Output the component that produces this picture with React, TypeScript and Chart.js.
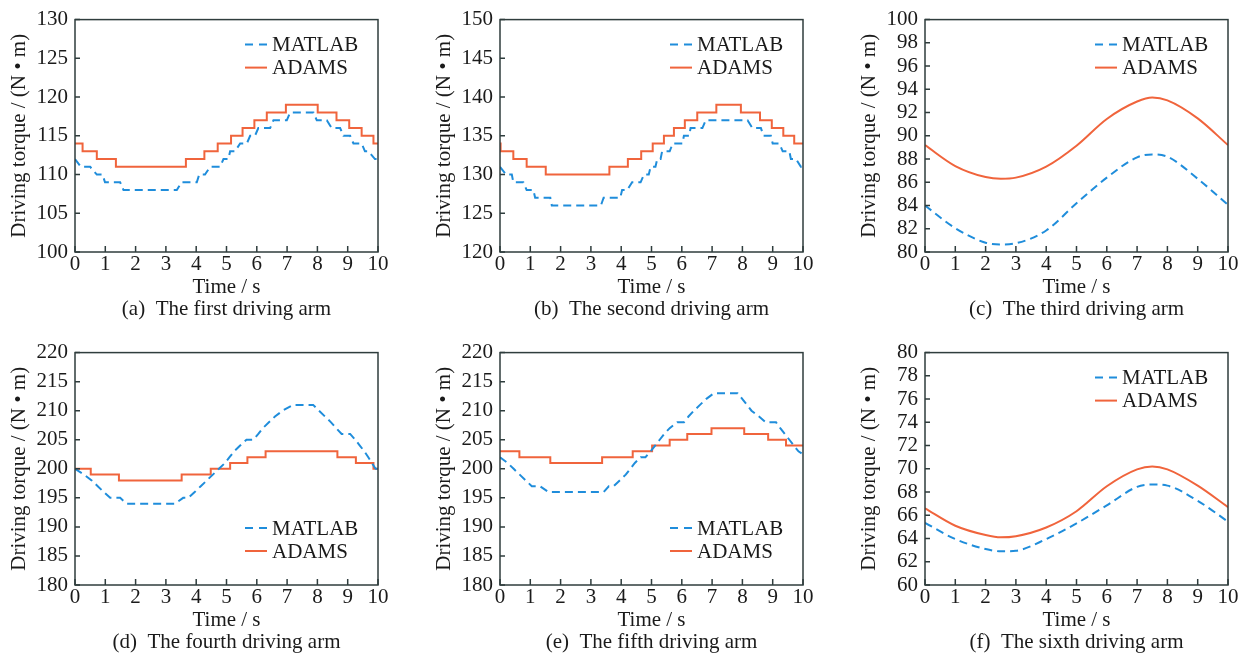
import React, { useEffect, useRef } from "react";
import { Chart, registerables } from "chart.js";

Chart.register(...registerables);

const FONT = '"Liberation Serif", "Times New Roman", serif';
const BLUE = "#1f8ddb";
const ORANGE = "#f0643c";
const AXIS = "#2f3d3d";
const TEXT = "#1a1a1a";
const FS = 21;

const SERIES_LABELS = ["MATLAB", "ADAMS"];
const X_TITLE = "Time / s";
const Y_TITLE = "Driving torque / (N \u2022 m)";
const CAPTIONS = [
  "(a)  The first driving arm",
  "(b)  The second driving arm",
  "(c)  The third driving arm",
  "(d)  The fourth driving arm",
  "(e)  The fifth driving arm",
  "(f)  The sixth driving arm",
];

// (a) first arm
const aMatlabT = [0, 0.19, 0.5, 0.72, 0.91, 0.99, 1.49, 1.6, 3.36, 3.52, 4.02, 4.1, 4.29, 4.46, 4.79, 4.9, 5.06, 5.12, 5.28, 5.45, 5.67, 5.78, 5.94, 6.05, 6.44, 6.55, 6.99, 7.1, 7.87, 7.98, 8.31, 8.47, 8.75, 8.86, 9.08, 9.19, 9.46, 9.57, 9.68, 9.9, 10];
const aMatlabV = [112, 111, 111, 110, 110, 109, 109, 108, 108, 109, 109, 110, 110, 111, 111, 112, 112, 113, 113, 114, 114, 115, 115, 116, 116, 117, 117, 118, 118, 117, 117, 116, 116, 115, 115, 114, 114, 113, 113, 112, 112];
const aAdamsT = [0, 0.25, 0.72, 1.35, 3.66, 4.27, 4.71, 5.15, 5.53, 5.92, 6.33, 6.96, 8.01, 8.63, 9.05, 9.46, 9.85, 10];
const aAdamsV = [114, 113, 112, 111, 112, 113, 114, 115, 116, 117, 118, 119, 118, 117, 116, 115, 114, 114];

// (b) second arm
const bMatlabT = [0, 0.2, 0.39, 0.44, 0.77, 0.88, 1.1, 1.16, 1.66, 1.71, 3.33, 3.42, 3.97, 4.03, 4.2, 4.36, 4.64, 4.75, 4.91, 4.97, 5.13, 5.19, 5.3, 5.35, 5.6, 5.7, 6.02, 6.07, 6.24, 6.29, 6.68, 6.79, 8.17, 8.33, 8.61, 8.7, 8.94, 9.0, 9.22, 9.33, 9.55, 9.6, 9.77, 9.93, 10];
const bMatlabV = [131, 130, 130, 129, 129, 128, 128, 127, 127, 126, 126, 127, 127, 128, 128, 129, 129, 130, 130, 131, 131, 132, 132, 133, 133, 134, 134, 135, 135, 136, 136, 137, 137, 136, 136, 135, 135, 134, 134, 133, 133, 132, 132, 131, 131];
const bAdamsT = [0, 0.02, 0.44, 0.88, 1.51, 3.61, 4.22, 4.66, 5.04, 5.41, 5.74, 6.1, 6.51, 7.14, 7.95, 8.58, 8.97, 9.35, 9.71, 10];
const bAdamsV = [134, 133, 132, 131, 130, 131, 132, 133, 134, 135, 136, 137, 138, 139, 138, 137, 136, 135, 134, 134];

// (c) third arm
const cT = [0, 1, 2, 2.5, 3, 4, 5, 6, 7, 7.5, 8, 9, 10];
const cMatlabV = [84.0, 82.05, 80.8, 80.65, 80.75, 81.85, 84.2, 86.4, 88.15, 88.4, 88.2, 86.3, 84.05];
const cAdamsV = [89.2, 87.4, 86.45, 86.3, 86.4, 87.35, 89.15, 91.45, 92.95, 93.3, 93.05, 91.5, 89.2];

// (d) fourth arm
const dMatlabT = [0, 0.3, 0.55, 0.75, 0.95, 1.16, 1.49, 1.7, 3.3, 3.57, 3.74, 3.95, 4.15, 4.35, 4.55, 4.75, 4.95, 5.1, 5.25, 5.45, 5.66, 5.88, 6.05, 6.2, 6.4, 6.6, 6.85, 7.2, 7.86, 8.05, 8.25, 8.45, 8.62, 8.8, 9.08, 9.25, 9.4, 9.55, 9.68, 9.8, 9.92, 10];
const dMatlabV = [200, 199, 198, 197, 196, 195, 195, 194, 194, 195, 195, 196, 197, 198, 199, 200, 201, 202, 203, 204, 205, 205, 206, 207, 208, 209, 210, 211, 211, 210, 209, 208, 207, 206, 206, 205, 204, 203, 202, 201, 200, 200];
const dAdamsT = [0, 0.52, 1.45, 3.52, 4.48, 5.12, 5.69, 6.29, 8.66, 9.27, 9.85, 10];
const dAdamsV = [200, 199, 198, 199, 200, 201, 202, 203, 202, 201, 200, 200];

// (e) fifth arm
const eMatlabT = [0, 0.25, 0.45, 0.65, 0.85, 1.05, 1.32, 1.6, 3.42, 3.59, 3.75, 3.95, 4.15, 4.3, 4.45, 4.64, 4.8, 4.97, 5.12, 5.27, 5.42, 5.6, 5.85, 6.07, 6.22, 6.4, 6.6, 6.8, 7.06, 7.84, 8.0, 8.15, 8.3, 8.55, 8.77, 9.11, 9.25, 9.4, 9.55, 9.7, 9.85, 10];
const eMatlabV = [202, 201, 200, 199, 198, 197, 197, 196, 196, 197, 197, 198, 199, 200, 201, 202, 202, 203, 204, 205, 206, 207, 208, 208, 209, 210, 211, 212, 213, 213, 212, 211, 210, 209, 208, 208, 207, 206, 205, 204, 203, 202.5];
const eAdamsT = [0, 0.64, 1.66, 3.37, 4.38, 5.02, 5.6, 6.18, 6.98, 8.06, 8.85, 9.44, 10];
const eAdamsV = [203, 202, 201, 202, 203, 204, 205, 206, 207, 206, 205, 204, 204];

// (f) sixth arm
const fT = [0, 1, 2, 2.5, 3, 4, 5, 6, 7, 7.5, 8, 9, 10];
const fMatlabV = [65.35, 63.95, 63.1, 62.9, 62.95, 63.95, 65.3, 66.85, 68.45, 68.65, 68.55, 67.25, 65.45];
const fAdamsV = [66.6, 65.1, 64.3, 64.1, 64.2, 64.95, 66.35, 68.5, 69.95, 70.2, 69.95, 68.55, 66.7];

const X_TICKS = [0, 1, 2, 3, 4, 5, 6, 7, 8, 9, 10];

type PanelCfg = {
  caption: string;
  yMin: number;
  yMax: number;
  yStep: number;
  legend: "top" | "bottom";
  mT: number[];
  mV: number[];
  aT: number[];
  aV: number[];
  stepped: boolean;
};

const PANELS: PanelCfg[] = [
  { caption: CAPTIONS[0], yMin: 100, yMax: 130, yStep: 5, legend: "top", mT: aMatlabT, mV: aMatlabV, aT: aAdamsT, aV: aAdamsV, stepped: true },
  { caption: CAPTIONS[1], yMin: 120, yMax: 150, yStep: 5, legend: "top", mT: bMatlabT, mV: bMatlabV, aT: bAdamsT, aV: bAdamsV, stepped: true },
  { caption: CAPTIONS[2], yMin: 80, yMax: 100, yStep: 2, legend: "top", mT: cT, mV: cMatlabV, aT: cT, aV: cAdamsV, stepped: false },
  { caption: CAPTIONS[3], yMin: 180, yMax: 220, yStep: 5, legend: "bottom", mT: dMatlabT, mV: dMatlabV, aT: dAdamsT, aV: dAdamsV, stepped: true },
  { caption: CAPTIONS[4], yMin: 180, yMax: 220, yStep: 5, legend: "bottom", mT: eMatlabT, mV: eMatlabV, aT: eAdamsT, aV: eAdamsV, stepped: true },
  { caption: CAPTIONS[5], yMin: 60, yMax: 80, yStep: 2, legend: "top", mT: fT, mV: fMatlabV, aT: fT, aV: fAdamsV, stepped: false },
];

const W = 396;
const H = 328;

const frameLegendPlugin = {
  id: "frameLegend",
  afterDatasetsDraw(chart: any, _args: any, opts: any) {
    const { ctx, chartArea } = chart;
    const { left, right, top, bottom } = chartArea;
    const xs = chart.scales.x;
    const ys = chart.scales.y;
    ctx.save();
    ctx.strokeStyle = AXIS;
    ctx.lineWidth = 1.5;
    ctx.setLineDash([]);
    ctx.strokeRect(left, top, right - left, bottom - top);
    ctx.beginPath();
    xs.ticks.forEach((t: any) => {
      const px = xs.getPixelForValue(t.value);
      ctx.moveTo(px, bottom);
      ctx.lineTo(px, bottom - 6);
    });
    ys.ticks.forEach((t: any) => {
      const py = ys.getPixelForValue(t.value);
      ctx.moveTo(left, py);
      ctx.lineTo(left + 5, py);
    });
    ctx.stroke();

    // legend
    const rows = opts.pos === "top" ? [top + 25, top + 48] : [bottom - 57, bottom - 34];
    const sx = left + 170;
    ctx.font = `${FS}px ${FONT}`;
    ctx.textBaseline = "middle";
    ctx.textAlign = "left";
    chart.data.datasets.forEach((ds: any, i: number) => {
      const yy = rows[i];
      ctx.beginPath();
      ctx.strokeStyle = ds.borderColor;
      ctx.lineWidth = 2;
      ctx.setLineDash(ds.borderDash && ds.borderDash.length ? [8, 6] : []);
      ctx.moveTo(sx, yy);
      ctx.lineTo(sx + 22, yy);
      ctx.stroke();
      ctx.setLineDash([]);
      ctx.fillStyle = TEXT;
      ctx.fillText(ds.label, sx + 27, yy + 1);
    });
    ctx.restore();
  },
};

function Panel({ cfg, left, top }: { cfg: PanelCfg; left: number; top: number }) {
  const ref = useRef<HTMLCanvasElement | null>(null);
  useEffect(() => {
    if (!ref.current) return;
    const toPts = (t: number[], v: number[]) => t.map((x, i) => ({ x, y: v[i] }));
    const chart = new Chart(ref.current, {
      type: "line",
      data: {
        datasets: [
          {
            label: SERIES_LABELS[0],
            data: toPts(cfg.mT, cfg.mV),
            borderColor: BLUE,
            borderWidth: 2,
            borderDash: [8, 5],
            pointRadius: 0,
            fill: false,
            tension: 0,
            cubicInterpolationMode: cfg.stepped ? "default" : "monotone",
          },
          {
            label: SERIES_LABELS[1],
            data: toPts(cfg.aT, cfg.aV),
            borderColor: ORANGE,
            borderWidth: 2,
            pointRadius: 0,
            fill: false,
            tension: 0,
            stepped: cfg.stepped ? true : false,
            cubicInterpolationMode: cfg.stepped ? "default" : "monotone",
          },
        ],
      } as any,
      options: {
        responsive: false,
        animation: false,
        devicePixelRatio: 1,
        events: [],
        layout: { padding: { left: 0, right: 18, top: 15, bottom: 8 } },
        scales: {
          x: {
            type: "linear",
            min: 0,
            max: 10,
            afterFit: (s: any) => {
              s.height = 68;
            },
            afterBuildTicks: (s: any) => {
              s.ticks = X_TICKS.map((v) => ({ value: v }));
            },
            grid: { display: false, drawTicks: false, drawOnChartArea: false },
            border: { display: false },
            ticks: {
              autoSkip: false,
              maxRotation: 0,
              padding: 0,
              color: TEXT,
              font: { family: FONT, size: FS, lineHeight: 1.2 },
            },
            title: {
              display: true,
              text: [X_TITLE, cfg.caption],
              color: TEXT,
              font: { family: FONT, size: FS, lineHeight: 22 / FS },
              padding: { top: 0, bottom: 0 },
            },
          },
          y: {
            type: "linear",
            min: cfg.yMin,
            max: cfg.yMax,
            afterFit: (s: any) => {
              s.width = 75;
            },
            grid: { display: false, drawTicks: false, drawOnChartArea: false },
            border: { display: false },
            ticks: {
              stepSize: cfg.yStep,
              autoSkip: false,
              padding: 7,
              color: TEXT,
              font: { family: FONT, size: FS, lineHeight: 1.2 },
            },
            title: {
              display: true,
              text: Y_TITLE,
              color: TEXT,
              font: { family: FONT, size: FS, lineHeight: 1.2 },
              padding: { top: 7, bottom: 0 },
            },
          },
        },
        plugins: {
          legend: { display: false },
          tooltip: { enabled: false },
          title: { display: false },
          frameLegend: { pos: cfg.legend },
        } as any,
      } as any,
      plugins: [frameLegendPlugin],
    });
    return () => chart.destroy();
  }, [cfg]);
  return (
    <canvas
      ref={ref}
      width={W}
      height={H}
      style={{ position: "absolute", left, top, width: W, height: H }}
    />
  );
}

export default function App() {
  return (
    <div
      style={{
        position: "absolute",
        left: 0,
        top: 0,
        width: 1246,
        height: 661,
        background: "#ffffff",
        overflow: "hidden",
      }}
    >
      {PANELS.map((p, i) => (
        <Panel key={i} cfg={p} left={(i % 3) * 425} top={Math.floor(i / 3) * 333} />
      ))}
    </div>
  );
}
